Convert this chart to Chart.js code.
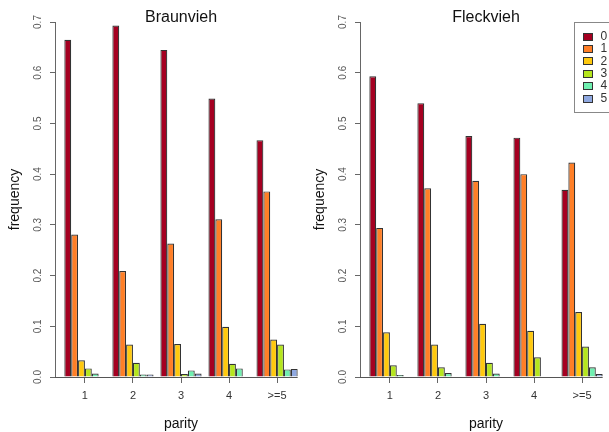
<!DOCTYPE html>
<html>
<head>
<meta charset="utf-8">
<script src="https://cdn.jsdelivr.net/npm/chart.js@4"></script>
<style>
  html, body { margin: 0; padding: 0; background: #fff; overflow: hidden; }
  canvas { position: absolute; top: 0; }
  #bv { left: 0; }
  #fv { left: 305px; }
</style>
</head>
<body>
<canvas id="bv" width="309" height="432"></canvas>
<canvas id="fv" width="309" height="432"></canvas>
<script>
// parity groups on the x axis, calving counts in the legend
var parity = ['1', '2', '3', '4', '>=5'];
var calvings = ['0', '1', '2', '3', '4', '5'];
var yTicks = [0, 0.1, 0.2, 0.3, 0.4, 0.5, 0.6, 0.7];
var colors = ['#a50021', '#ff7f27', '#ffc90e', '#b5e61d', '#6ff0b0', '#8fa8e0'];

// one row per calving count, one value per parity group
var braunvieh = [
    [0.665, 0.693, 0.645, 0.549, 0.467],
    [0.281, 0.209, 0.263, 0.311, 0.366],
    [0.033, 0.064, 0.065, 0.099, 0.074],
    [0.017, 0.028, 0.006, 0.026, 0.064],
    [0.007, 0.005, 0.013, 0.017, 0.015],
    [0, 0.005, 0.007, 0, 0.016]
];
var fleckvieh = [
    [0.593, 0.540, 0.475, 0.472, 0.369],
    [0.294, 0.372, 0.387, 0.400, 0.423],
    [0.088, 0.064, 0.105, 0.091, 0.128],
    [0.023, 0.019, 0.028, 0.039, 0.060],
    [0.004, 0.008, 0.007, 0, 0.019],
    [0, 0, 0, 0, 0.006]
];

var font = 'Liberation Sans, Arial, sans-serif';

// barplot(beside=TRUE) layout: 6 bars + 1 bar gap per group
function groupPos(i){
    return 4 + 7 * i;
}

function makeDatasets(rows){
    return rows.map(function(vals, s){
        return {
            label: calvings[s],
            data: vals.map(function(v, i){ return {x: groupPos(i), y: v}; }),
            backgroundColor: colors[s],
            borderColor: '#333',
            borderWidth: 1.2,
            categoryPercentage: 6 / 7,
            barPercentage: 1
        };
    });
}

// line along y = 0 up to the end of the last bar
var baseline = {
    id: 'baseline',
    afterDatasetsDraw: function(chart){
        var meta = chart.getDatasetMeta(chart.data.datasets.length - 1);
        var last = meta.data[meta.data.length - 1];
        var y = Math.round(chart.scales.y.getPixelForValue(0)) + 0.5;
        var ctx = chart.ctx;
        ctx.save();
        ctx.strokeStyle = '#555';
        ctx.lineWidth = 1;
        ctx.beginPath();
        ctx.moveTo(chart.chartArea.left, y);
        ctx.lineTo(last.x + last.width / 2, y);
        ctx.stroke();
        ctx.restore();
    }
};

// R style boxed legend in the top right corner
var boxLegend = {
    id: 'boxLegend',
    afterDraw: function(chart){
        var ctx = chart.ctx;
        var left = Math.round(chart.chartArea.right - 38) + 0.5;
        var top = chart.chartArea.top + 0.5;
        ctx.save();
        ctx.strokeStyle = '#888';
        ctx.lineWidth = 1;
        ctx.strokeRect(left, top, 60, 90);
        ctx.font = '12px ' + font;
        ctx.textBaseline = 'middle';
        chart.data.datasets.forEach(function(ds, i){
            var cy = top + 14 + i * 12.4;
            ctx.fillStyle = ds.backgroundColor;
            ctx.fillRect(left + 9, Math.round(cy - 4), 9, 8);
            ctx.strokeStyle = '#333';
            ctx.strokeRect(left + 9, Math.round(cy - 4) + 0.5, 9, 7);
            ctx.fillStyle = '#333';
            ctx.fillText(ds.label, left + 26, cy);
        });
        ctx.restore();
    }
};

function renderChart(id, title, rows, extra){
    var config = {
        type: 'bar',
        data: { datasets: makeDatasets(rows) },
        options: {
            responsive: false,
            animation: false,
            layout: { padding: { left: 0, right: 2, top: 0, bottom: 0 } },
            plugins: {
                legend: { display: false },
                tooltip: { enabled: false },
                title: {
                    display: true,
                    text: title,
                    fullSize: false,
                    color: '#111',
                    font: { family: font, size: 16, weight: 'normal' },
                    padding: { top: 8, bottom: -5.2 }
                }
            },
            scales: {
                x: {
                    type: 'linear',
                    min: -0.36,
                    max: 36.36,
                    offset: false,
                    afterBuildTicks: function(s){
                        s.ticks = parity.map(function(p, i){ return {value: groupPos(i)}; });
                    },
                    afterFit: function(s){ s.height = 55; },
                    border: { display: false },
                    grid: { drawOnChartArea: false, offset: false, tickLength: 6, color: '#666' },
                    ticks: {
                        autoSkip: false,
                        maxRotation: 0,
                        padding: 6,
                        color: '#333',
                        font: { family: font, size: 11 },
                        callback: function(v, i){ return parity[i]; }
                    },
                    title: {
                        display: true,
                        text: 'parity',
                        color: '#111',
                        font: { family: font, size: 14 },
                        padding: { top: 0, bottom: -1 }
                    }
                },
                y: {
                    min: 0,
                    max: 0.7,
                    afterBuildTicks: function(s){
                        s.ticks = yTicks.map(function(v){ return {value: v}; });
                    },
                    afterFit: function(s){ s.width = 55; },
                    border: { display: true, color: '#666' },
                    grid: { drawOnChartArea: false, tickLength: 5, color: '#666' },
                    ticks: {
                        minRotation: 90,
                        maxRotation: 90,
                        crossAlign: 'center',
                        padding: 5,
                        color: '#555',
                        font: { family: font, size: 10 },
                        callback: function(v){ return v.toFixed(1); }
                    },
                    title: {
                        display: true,
                        text: 'frequency',
                        color: '#111',
                        font: { family: font, size: 14 },
                        padding: { top: 7, bottom: 0 }
                    }
                }
            }
        },
        plugins: [baseline].concat(extra)
    };
    return new Chart(document.getElementById(id), config);
}

renderChart('bv', 'Braunvieh', braunvieh, []);
renderChart('fv', 'Fleckvieh', fleckvieh, [boxLegend]);
</script>
</body>
</html>
